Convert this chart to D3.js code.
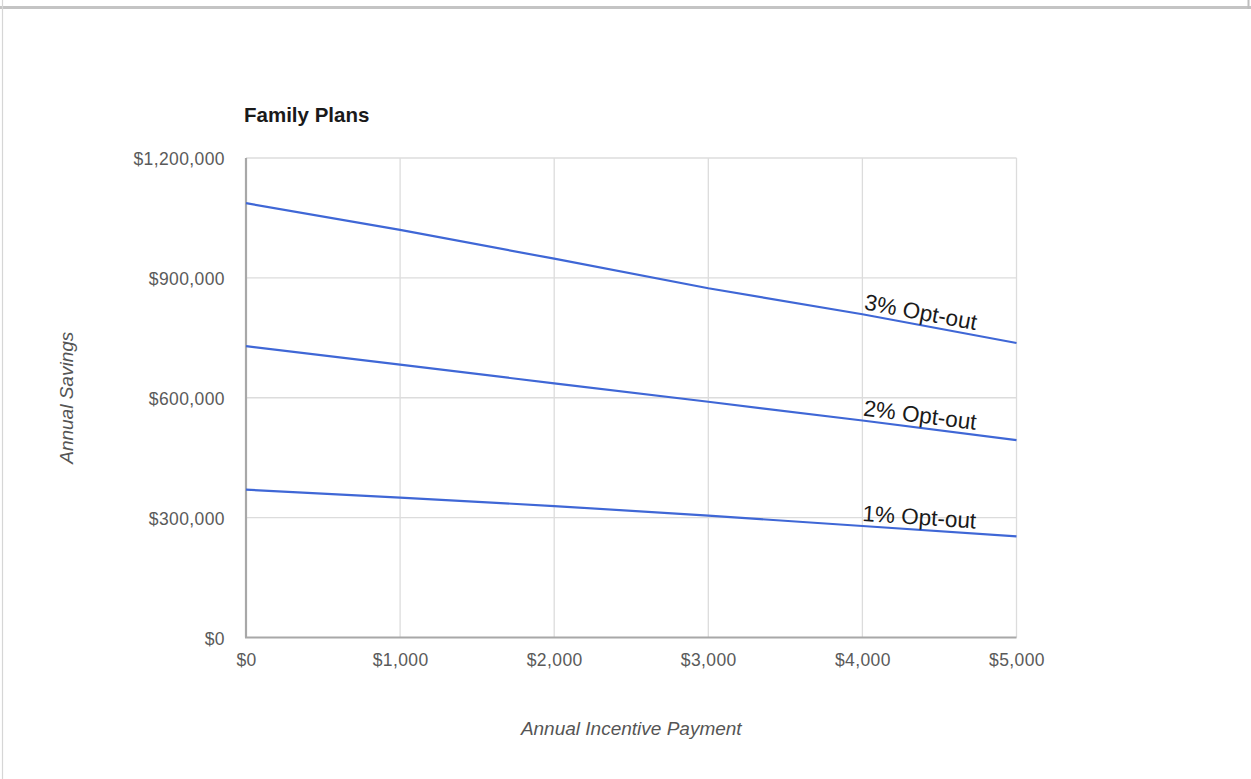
<!DOCTYPE html>
<html>
<head>
<meta charset="utf-8">
<script src="https://cdn.jsdelivr.net/npm/d3@7"></script>
<style>
  html, body { margin: 0; padding: 0; background: #fff; }
  svg { display: block; }
</style>
</head>
<body>
<svg id="chart" width="1251" height="779"></svg>
<script>
// Annual incentive payment (x) vs. annual savings (y) for three opt-out rates
const incentives = [0, 1000, 2000, 3000, 4000, 5000];
const optOut3 = [1087000, 1020000, 948000, 874000, 809000, 737000];
const optOut2 = [729000, 683000, 636000, 590000, 543000, 494000];
const optOut1 = [370000, 350000, 329000, 305000, 279000, 253000];
const seriesNames = ["3% Opt-out", "2% Opt-out", "1% Opt-out"];
const xTicks = [0, 1000, 2000, 3000, 4000, 5000];
const yTicks = [0, 300000, 600000, 900000, 1200000];

const svg = d3.select("#chart");
const W = 1251, H = 779;
const plot = { left: 246, right: 1016.5, top: 158, bottom: 637.5 };

// window frame
svg.append("line").attr("x1", 0).attr("x2", W).attr("y1", 7.5).attr("y2", 7.5)
  .attr("stroke", "#c4c4c4").attr("stroke-width", 3);
svg.append("line").attr("x1", 2.5).attr("x2", 2.5).attr("y1", 0).attr("y2", H)
  .attr("stroke", "#d6d6d6").attr("stroke-width", 1.2);
svg.append("line").attr("x1", 1248.5).attr("x2", 1248.5).attr("y1", 0).attr("y2", 9)
  .attr("stroke", "#bdbdbd").attr("stroke-width", 2);

const x = d3.scaleLinear().domain([0, 5000]).range([plot.left, plot.right]);
const y = d3.scaleLinear().domain([0, 1200000]).range([plot.bottom, plot.top]);
const money = v => "$" + d3.format(",")(v);

// gridlines
const grid = svg.append("g");
grid.selectAll("line.v").data(xTicks.filter(d => d > 0)).join("line")
  .attr("x1", d => x(d)).attr("x2", d => x(d))
  .attr("y1", plot.top).attr("y2", plot.bottom)
  .attr("stroke", "#dcdcdc").attr("stroke-width", 1.3);
grid.selectAll("line.h").data(yTicks.filter(d => d > 0)).join("line")
  .attr("x1", plot.left).attr("x2", plot.right)
  .attr("y1", d => y(d)).attr("y2", d => y(d))
  .attr("stroke", "#dcdcdc").attr("stroke-width", 1.3);

// axes
const xAxis = d3.axisBottom(x).tickValues(xTicks).tickFormat(money).tickSize(0).tickPadding(22);
const yAxis = d3.axisLeft(y).tickValues(yTicks).tickFormat(money).tickSize(0).tickPadding(21);

const gx = svg.append("g").attr("transform", `translate(0,${plot.bottom})`).call(xAxis);
const gy = svg.append("g").attr("transform", `translate(${plot.left},0)`).call(yAxis);
[gx, gy].forEach(g => {
  g.select(".domain").remove();
  g.selectAll("text").attr("font-family", "Arial, 'Liberation Sans', sans-serif")
    .attr("font-size", 17.5).attr("fill", "#5a5a5a").attr("letter-spacing", 0.4);
});
gx.selectAll("text").attr("dy", "0.35em").attr("y", 22);
gy.selectAll("text").attr("dy", "0.38em");

// baselines
svg.append("line").attr("x1", plot.left).attr("x2", plot.left)
  .attr("y1", plot.top).attr("y2", plot.bottom)
  .attr("stroke", "#a8a8a8").attr("stroke-width", 2.2);
svg.append("line").attr("x1", plot.left - 1).attr("x2", plot.right)
  .attr("y1", plot.bottom).attr("y2", plot.bottom)
  .attr("stroke", "#a8a8a8").attr("stroke-width", 2.2);

// series
const series = [optOut3, optOut2, optOut1].map((vals, i) => ({
  name: seriesNames[i],
  points: incentives.map((d, j) => [d, vals[j]])
}));
const line = d3.line().x(d => x(d[0])).y(d => y(d[1]));
svg.append("g").selectAll("path").data(series).join("path")
  .attr("d", d => line(d.points))
  .attr("fill", "none").attr("stroke", "#3f67d6").attr("stroke-width", 2.2);

// labels along the lines
const labelAt = 4364;
svg.append("g").selectAll("text").data(series).join("text")
  .attr("transform", d => {
    const pts = d.points;
    let k = 0;
    while (k < pts.length - 2 && pts[k + 1][0] < labelAt) k++;
    const a = pts[k], b = pts[k + 1];
    const t = (labelAt - a[0]) / (b[0] - a[0]);
    const px = x(labelAt), py = y(a[1] + t * (b[1] - a[1]));
    const ang = Math.atan2(y(b[1]) - y(a[1]), x(b[0]) - x(a[0])) * 180 / Math.PI;
    return `translate(${px},${py}) rotate(${ang})`;
  })
  .attr("y", -5)
  .attr("text-anchor", "middle")
  .attr("font-family", "Arial, 'Liberation Sans', sans-serif")
  .attr("font-size", 22.5).attr("fill", "#1a1a1a")
  .text(d => d.name);

// titles
svg.append("text").attr("x", 244).attr("y", 122)
  .attr("font-family", "Arial, 'Liberation Sans', sans-serif")
  .attr("font-size", 20.5).attr("font-weight", "bold").attr("fill", "#1a1a1a")
  .text("Family Plans");

svg.append("text").attr("x", (plot.left + plot.right) / 2).attr("y", 735)
  .attr("text-anchor", "middle")
  .attr("font-family", "Arial, 'Liberation Sans', sans-serif")
  .attr("font-size", 19).attr("font-style", "italic").attr("fill", "#555")
  .text("Annual Incentive Payment");

svg.append("text")
  .attr("transform", `translate(73,${(plot.top + plot.bottom) / 2}) rotate(-90)`)
  .attr("text-anchor", "middle")
  .attr("font-family", "Arial, 'Liberation Sans', sans-serif")
  .attr("font-size", 19).attr("font-style", "italic").attr("fill", "#555")
  .text("Annual Savings");
</script>
</body>
</html>
